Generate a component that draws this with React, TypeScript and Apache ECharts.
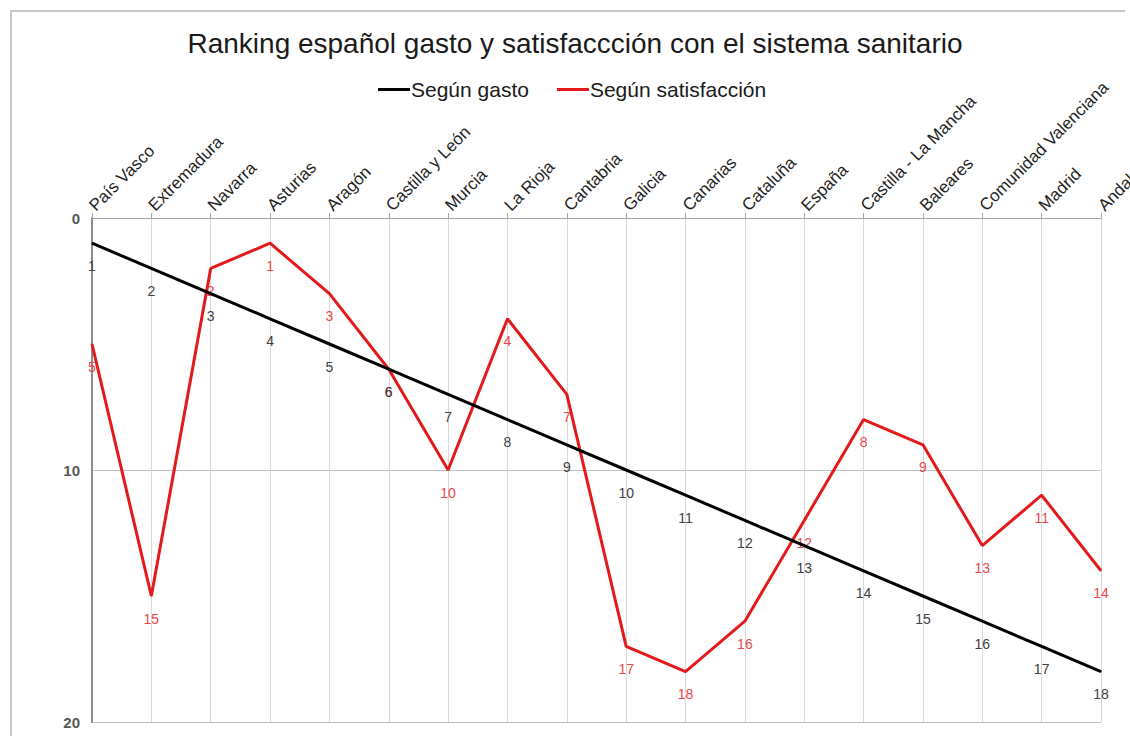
import React, { useEffect, useRef } from "react";
import * as echarts from "echarts";

const categories = [
  "País Vasco", "Extremadura", "Navarra", "Asturias", "Aragón", "Castilla y León",
  "Murcia", "La Rioja", "Cantabria", "Galicia", "Canarias", "Cataluña", "España",
  "Castilla - La Mancha", "Baleares", "Comunidad Valenciana", "Madrid", "Andalucía",
];
const segunGasto = [1, 2, 3, 4, 5, 6, 7, 8, 9, 10, 11, 12, 13, 14, 15, 16, 17, 18];
const segunSatisfaccion = [5, 15, 2, 1, 3, 6, 10, 4, 7, 17, 18, 16, 12, 8, 9, 13, 11, 14];

const FONT = "Liberation Sans, Arial, sans-serif";

export default function App() {
  const ref = useRef<HTMLDivElement>(null);
  useEffect(() => {
    document.body.style.margin = "0";
    document.body.style.overflow = "hidden";
    const chart = echarts.init(ref.current!, undefined, { renderer: "svg" });
    chart.setOption({
      animation: false,
      backgroundColor: "#ffffff",
      textStyle: { fontFamily: FONT },
      title: {
        text: "Ranking español gasto y satisfaccción con el sistema sanitario",
        left: 570,
        textAlign: "center",
        top: 24,
        textStyle: { fontSize: 28, fontWeight: "normal", color: "#1a1a1a", fontFamily: FONT },
      },
      legend: {
        top: 74,
        left: 373,
        icon: "rect",
        itemWidth: 32,
        itemHeight: 3,
        itemGap: 28,
        textStyle: { fontSize: 21, color: "#1a1a1a", fontFamily: FONT, padding: [0, 0, 0, -4] },
        data: ["Según gasto", "Según satisfacción"],
      },
      graphic: [
        {
          type: "line",
          shape: { x1: 11, y1: 10, x2: 11, y2: 800 },
          style: { stroke: "#c8c8c8", lineWidth: 2 },
          silent: true,
        },
        {
          type: "line",
          shape: { x1: 10, y1: 11, x2: 1125, y2: 11 },
          style: { stroke: "#c8c8c8", lineWidth: 2 },
          silent: true,
        },
      ],
      grid: { left: 92, top: 218, right: 29, bottom: 14, containLabel: false, outerBoundsMode: "none" },
      xAxis: {
        type: "category",
        position: "top",
        boundaryGap: false,
        data: categories,
        axisLine: { show: true, lineStyle: { color: "#a6a6a6", width: 1 } },
        axisTick: { show: true, length: 5, inside: false, alignWithLabel: true, lineStyle: { color: "#a6a6a6" } },
        axisLabel: { rotate: 45, fontSize: 17, color: "#1f1f1f", margin: 10, interval: 0, fontFamily: FONT, hideOverlap: false },
        splitLine: { show: true, lineStyle: { color: "#d9d9d9", width: 1 } },
      },
      yAxis: {
        type: "value",
        inverse: true,
        min: 0,
        max: 20,
        interval: 10,
        axisLine: { show: true, lineStyle: { color: "#8c8c8c", width: 2 } },
        axisTick: { show: false },
        axisLabel: { fontSize: 15, color: "#595959", margin: 12, fontWeight: "bold", fontFamily: FONT },
        splitLine: { show: true, lineStyle: { color: "#bfbfbf", width: 1 } },
      },
      series: [
        {
          name: "Según gasto",
          type: "line",
          data: segunGasto,
          symbol: "circle",
          symbolSize: 1,
          showSymbol: true,
          itemStyle: { color: "#000000" },
          lineStyle: { color: "#000000", width: 3 },
          label: { show: true, position: "bottom", distance: 15, fontSize: 14, color: "#404040", fontFamily: FONT },
          labelLayout: { hideOverlap: false },
          z: 3,
        },
        {
          name: "Según satisfacción",
          type: "line",
          data: segunSatisfaccion,
          symbol: "circle",
          symbolSize: 1,
          showSymbol: true,
          itemStyle: { color: "#e31a1c" },
          lineStyle: { color: "#e31a1c", width: 3 },
          label: { show: true, position: "bottom", distance: 15, fontSize: 14, color: "#e8474a", fontFamily: FONT },
          labelLayout: { hideOverlap: false },
          z: 2,
        },
      ],
    });
    return () => chart.dispose();
  }, []);
  return <div ref={ref} style={{ width: 1130, height: 736 }} />;
}
